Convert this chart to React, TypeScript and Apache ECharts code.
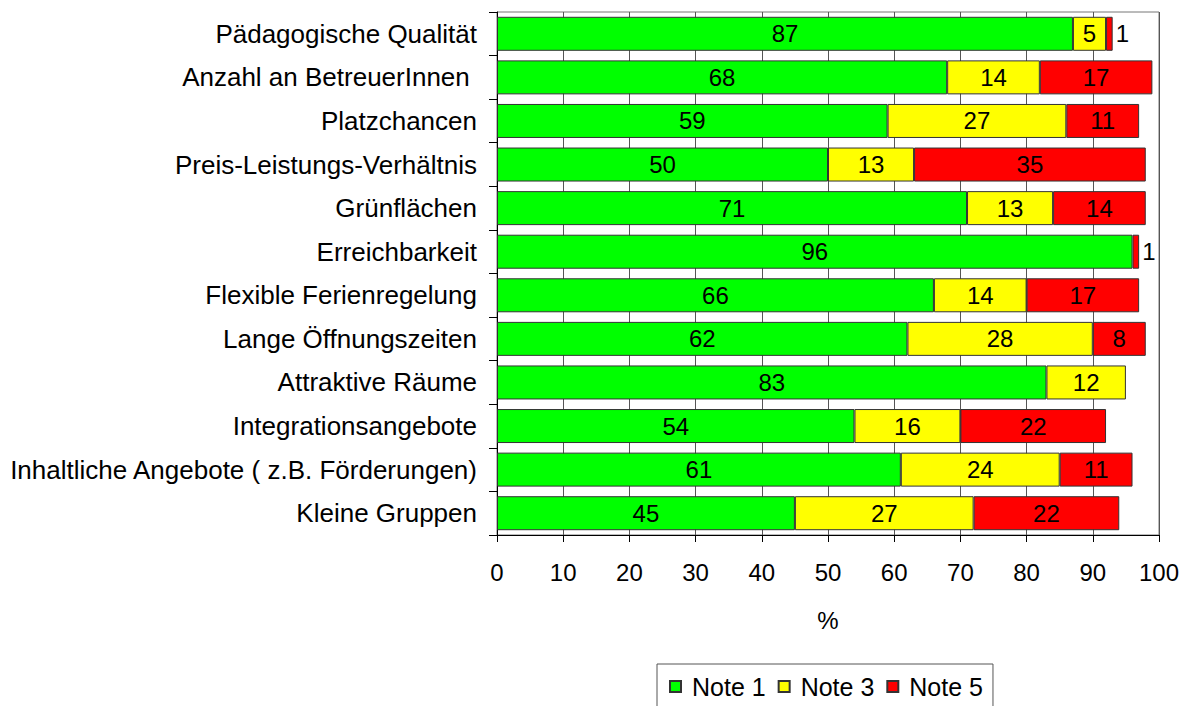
import React, { useEffect, useRef } from "react";
import * as echarts from "echarts";

const categories = [
  "Pädagogische Qualität",
  "Anzahl an BetreuerInnen ",
  "Platzchancen",
  "Preis-Leistungs-Verhältnis",
  "Grünflächen",
  "Erreichbarkeit",
  "Flexible Ferienregelung",
  "Lange Öffnungszeiten",
  "Attraktive Räume",
  "Integrationsangebote",
  "Inhaltliche Angebote ( z.B. Förderungen)",
  "Kleine Gruppen",
];
const note1 = [87, 68, 59, 50, 71, 96, 66, 62, 83, 54, 61, 45];
const note3 = [5, 14, 27, 13, 13, null, 14, 28, 12, 16, 24, 27];
const note5 = [1, 17, 11, 35, 14, 1, 17, 8, null, 22, 11, 22];
const xTicks = [0, 10, 20, 30, 40, 50, 60, 70, 80, 90, 100];

const FONT = "'Liberation Sans', Arial, sans-serif";

function toData(arr: (number | null)[]) {
  return arr.map((v) =>
    v == null
      ? { value: null }
      : { value: v, label: { position: v <= 1 ? "right" : "inside", distance: 3 } }
  );
}

export default function App() {
  const ref = useRef<HTMLDivElement>(null);
  useEffect(() => {
    const chart = echarts.init(ref.current!, null, { renderer: "svg" });
    const labelCfg = {
      show: true,
      color: "#000",
      fontSize: 24,
      fontFamily: FONT,
      formatter: (p: any) => (p.value == null ? "" : String(p.value)),
    };
    const mk = (name: string, arr: (number | null)[], color: string) => ({
      name,
      type: "bar",
      stack: "total",
      barCategoryGap: "22%",
      data: toData(arr),
      itemStyle: { color, borderColor: "#333", borderWidth: 1 },
      label: labelCfg,
    });
    chart.setOption({
      animation: false,
      textStyle: { fontFamily: FONT },
      grid: {
        left: 497,
        right: 30,
        top: 12,
        bottom: 171,
        show: true,
        borderColor: "#777",
        borderWidth: 1,
      },
      legend: {
        left: 657,
        top: 664,
        padding: [10, 10, 10, 12],
        borderColor: "#555",
        borderWidth: 1,
        itemWidth: 11,
        itemHeight: 11,
        itemGap: 12,
        icon: "rect",
        textStyle: { fontSize: 25, fontFamily: FONT, color: "#000", padding: [0, 0, 0, 6] },
        data: ["Note 1", "Note 3", "Note 5"],
      },
      xAxis: {
        type: "value",
        min: xTicks[0],
        max: xTicks[xTicks.length - 1],
        interval: 10,
        name: "%",
        nameLocation: "middle",
        nameGap: 73,
        nameTextStyle: { fontSize: 24, fontFamily: FONT, color: "#000" },
        axisLine: { show: true, lineStyle: { color: "#000", width: 1 } },
        axisTick: { show: true, length: 7, lineStyle: { color: "#000" } },
        axisLabel: { fontSize: 24, fontFamily: FONT, color: "#000", margin: 25 },
        splitLine: { show: true, lineStyle: { color: "#555", width: 1 } },
      },
      yAxis: {
        type: "category",
        inverse: true,
        data: categories,
        axisLine: { show: true, lineStyle: { color: "#000", width: 1 } },
        axisTick: { show: true, length: 8, lineStyle: { color: "#000" } },
        axisLabel: { fontSize: 26, fontFamily: FONT, color: "#000", margin: 20 },
      },
      series: [
        mk("Note 1", note1, "#00FF00"),
        mk("Note 3", note3, "#FFFF00"),
        mk("Note 5", note5, "#FF0000"),
      ],
    });
    return () => chart.dispose();
  }, []);
  return (
    <div
      ref={ref}
      style={{ position: "fixed", left: 0, top: 0, width: 1189, height: 706, background: "#fff" }}
    />
  );
}
